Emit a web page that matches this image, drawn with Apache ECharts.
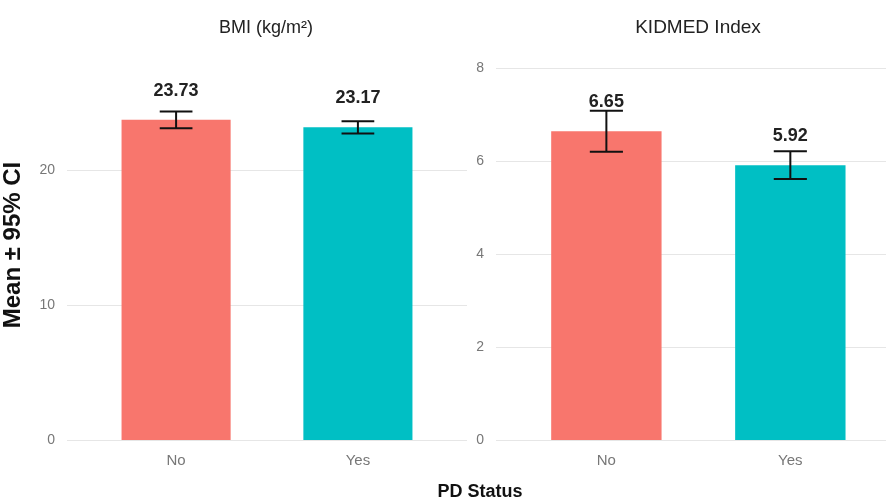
<!DOCTYPE html>
<html lang="en">
<head>
    <meta charset="UTF-8">
    <title>PD Status</title>
    <script src="https://cdn.jsdelivr.net/npm/echarts@6/dist/echarts.min.js"></script>
    <style>
        html, body {
            margin: 0;
            padding: 0;
            background: #fff;
        }
        #box {
            width: 886px;
            height: 503px;
        }
    </style>
</head>
<body>
<div id="box"></div>
<script>
    // data
    var categories = ['No', 'Yes'];
    var barColors = ['#F8766D', '#00BFC4'];

    var bmiMean = [23.73, 23.17];
    var bmiLow = [23.11, 22.72];
    var bmiHigh = [24.35, 23.62];
    var bmiTicks = [0, 10, 20];

    var kidmedMean = [6.65, 5.92];
    var kidmedLow = [6.21, 5.62];
    var kidmedHigh = [7.09, 6.22];
    var kidmedTicks = [0, 2, 4, 6, 8];

    var font = 'Liberation Sans, Arial, sans-serif';

    function barData(means) {
        return means.map(function (v, i) {
            return {value: [i + 1, v], itemStyle: {color: barColors[i]}};
        });
    }
    function errData(low, high) {
        return low.map(function (v, i) {
            return [i + 1, v, high[i]];
        });
    }

    // error bar drawn through the axes
    function renderErr(params, api) {
        var x = api.value(0);
        var lo = api.coord([x, api.value(1)]);
        var hi = api.coord([x, api.value(2)]);
        var half = api.size([0.09, 0])[0];
        var style = {stroke: '#111', lineWidth: 2};
        return {
            type: 'group',
            children: [
                {type: 'line', shape: {x1: hi[0], y1: hi[1], x2: lo[0], y2: lo[1]}, style: style},
                {type: 'line', shape: {x1: hi[0] - half, y1: hi[1], x2: hi[0] + half, y2: hi[1]}, style: style},
                {type: 'line', shape: {x1: lo[0] - half, y1: lo[1], x2: lo[0] + half, y2: lo[1]}, style: style}
            ]
        };
    }

    function xAxisFor(idx, min, max) {
        return {
            type: 'value',
            gridIndex: idx,
            min: min,
            max: max,
            splitLine: {show: false},
            axisLine: {show: false},
            axisTick: {show: false},
            axisLabel: {
                customValues: [1, 2],
                margin: 13,
                fontFamily: font,
                fontSize: 15,
                color: '#777',
                formatter: function (v) {
                    return categories[Math.round(v) - 1];
                }
            }
        };
    }

    function yAxisFor(idx, max, ticks) {
        return {
            type: 'value',
            gridIndex: idx,
            min: 0,
            max: max,
            axisLine: {show: false},
            axisTick: {show: false, customValues: ticks},
            axisLabel: {
                customValues: ticks,
                margin: 12,
                fontFamily: font,
                fontSize: 14,
                color: '#777'
            },
            splitLine: {show: true, lineStyle: {color: '#e6e6e6', width: 1}}
        };
    }

    var barLabel = {
        show: true,
        position: 'top',
        distance: 20,
        fontFamily: font,
        fontWeight: 'bold',
        fontSize: 18,
        color: '#222',
        formatter: function (p) {
            return p.value[1].toFixed(2);
        }
    };

    var myChart = echarts.init(document.getElementById('box'));
    var option = {
        backgroundColor: '#fff',
        animation: false,
        grid: [
            {left: 64, top: 50, width: 403, bottom: 63},
            {left: 496, top: 50, right: 0, bottom: 63}
        ],
        // right panel runs past the picture edge, so its x range is cut at 2.52
        xAxis: [xAxisFor(0, 0.4, 2.6), xAxisFor(1, 0.4, 2.52)],
        yAxis: [
            Object.assign(yAxisFor(0, 28.9, bmiTicks), {
                name: 'Mean \u00b1 95% CI',
                nameLocation: 'middle',
                nameGap: 42,
                nameRotate: 90,
                nameTextStyle: {fontFamily: font, fontWeight: 'bold', fontSize: 24, color: '#111'}
            }),
            yAxisFor(1, 8.4, kidmedTicks)
        ],
        graphic: [
            {type: 'text', x: 266, y: 28, style: {text: 'BMI (kg/m\u00b2)', align: 'center', verticalAlign: 'middle', font: '18px ' + font, fill: '#222'}},
            {type: 'text', x: 698, y: 28, style: {text: 'KIDMED Index', align: 'center', verticalAlign: 'middle', font: '19px ' + font, fill: '#222'}},
            {type: 'text', x: 480, y: 492, style: {text: 'PD Status', align: 'center', verticalAlign: 'middle', font: 'bold 18px ' + font, fill: '#111'}}
        ],
        series: [
            {
                type: 'bar', xAxisIndex: 0, yAxisIndex: 0,
                barWidth: '60%',
                data: barData(bmiMean),
                label: barLabel
            },
            {
                type: 'custom', xAxisIndex: 0, yAxisIndex: 0,
                renderItem: renderErr,
                encode: {x: 0, y: [1, 2]},
                data: errData(bmiLow, bmiHigh),
                z: 5
            },
            {
                type: 'bar', xAxisIndex: 1, yAxisIndex: 1,
                barWidth: '60%',
                data: barData(kidmedMean),
                label: barLabel
            },
            {
                type: 'custom', xAxisIndex: 1, yAxisIndex: 1,
                renderItem: renderErr,
                encode: {x: 0, y: [1, 2]},
                data: errData(kidmedLow, kidmedHigh),
                z: 5
            }
        ]
    };
    myChart.setOption(option);
</script>
</body>
</html>
